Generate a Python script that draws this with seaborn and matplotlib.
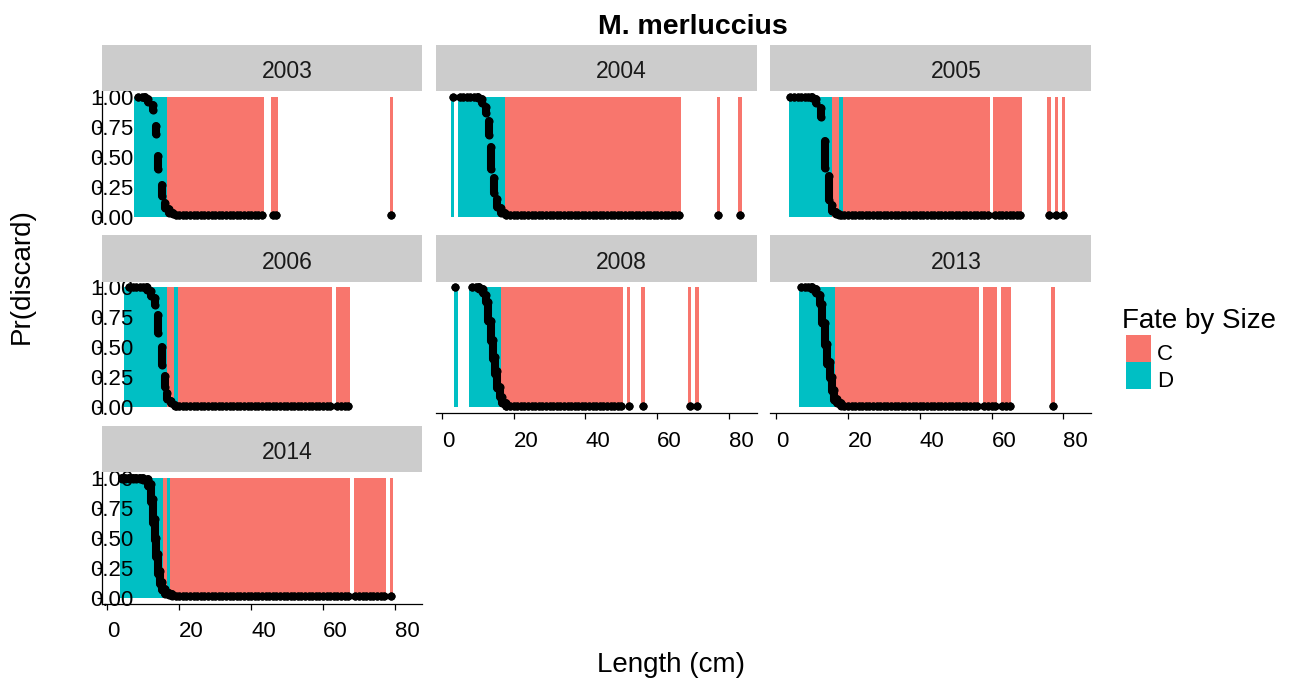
import matplotlib
matplotlib.use("Agg")
import matplotlib.pyplot as plt
from matplotlib.patches import Rectangle
import pandas as pd
import seaborn as sns

sns.set_theme(style="white")
plt.rcParams["font.family"] = ["Liberation Sans", "DejaVu Sans"]

# ---------------------------------------------------------------------------
# Length classes (cm) by fate: C = caught/retained, D = discarded
# ---------------------------------------------------------------------------
years = ["2003", "2004", "2005", "2006", "2008", "2013", "2014"]

c_2003 = [*range(17, 44), 46, 47, 79]
d_2003 = [*range(8, 17)]
c_2004 = [*range(18, 67), 77, 83]
d_2004 = [3, *range(5, 18)]
c_2005 = [16, 17, *range(19, 60), *range(61, 69), 76, 78, 80]
d_2005 = [*range(4, 16), 18]
c_2006 = [17, 18, *range(20, 63), *range(64, 68)]
d_2006 = [*range(5, 17), 19]
c_2008 = [*range(17, 51), 52, 56, 69, 71]
d_2008 = [4, *range(8, 17)]
c_2013 = [*range(17, 57), *range(58, 62), *range(63, 66), 77]
d_2013 = [*range(7, 17)]
c_2014 = [16, *range(18, 68), *range(69, 78), 79]
d_2014 = [*range(4, 16), 17]

# Fitted Pr(discard): (length, lowest, highest) over the selectivity curve
fit_2003 = [(8.5, 1.0, 1.0), (9.5, 1.0, 1.0), (10.5, 0.99, 1.0), (11.3, 0.96, 0.98),
            (12.6, 0.89, 0.93), (13.4, 0.69, 0.76), (14.1, 0.40, 0.51), (15.2, 0.17, 0.26),
            (16.1, 0.07, 0.11), (17.1, 0.03, 0.06), (18.2, 0.02, 0.03)]
fit_2004 = [(3, 1.0, 1.0), (5, 1.0, 1.0), (6, 1.0, 1.0), (7, 1.0, 1.0), (8, 1.0, 1.0),
            (9, 1.0, 1.0), (10, 0.99, 1.0), (11.2, 0.95, 0.98), (12.4, 0.87, 0.92),
            (13.2, 0.68, 0.80), (13.8, 0.40, 0.58), (14.5, 0.20, 0.32), (15.4, 0.08, 0.15),
            (16.4, 0.03, 0.07), (17.5, 0.02, 0.03)]
fit_2005 = [(4, 1.0, 1.0), (5, 1.0, 1.0), (6, 1.0, 1.0), (7, 1.0, 1.0), (8, 1.0, 1.0),
            (9, 1.0, 1.0), (10, 0.99, 1.0), (11.2, 0.95, 0.98), (12.5, 0.83, 0.91),
            (13.6, 0.41, 0.63), (14.6, 0.14, 0.34), (15.6, 0.05, 0.10), (16.6, 0.02, 0.04),
            (17.6, 0.01, 0.02)]
fit_2006 = [(6, 1.0, 1.0), (7, 1.0, 1.0), (8, 1.0, 1.0), (9, 1.0, 1.0), (10, 1.0, 1.0),
            (11, 0.98, 1.0), (12.2, 0.93, 0.97), (13.1, 0.85, 0.91), (14.2, 0.62, 0.77),
            (15.2, 0.35, 0.50), (15.9, 0.17, 0.26), (16.7, 0.07, 0.12), (17.7, 0.03, 0.05),
            (18.7, 0.01, 0.02)]
fit_2008 = [(3.8, 1.0, 1.0), (8.5, 1.0, 1.0), (9.5, 1.0, 1.0), (10.5, 0.99, 1.0),
            (11.4, 0.95, 0.99), (12.2, 0.88, 0.94), (12.9, 0.72, 0.88), (13.6, 0.55, 0.72),
            (14.3, 0.40, 0.56), (14.9, 0.28, 0.42), (15.5, 0.16, 0.30), (16.1, 0.08, 0.17),
            (16.9, 0.03, 0.08), (17.9, 0.01, 0.03)]
fit_2013 = [(7, 1.0, 1.0), (8, 1.0, 1.0), (9, 1.0, 1.0), (10, 0.99, 1.0), (11.2, 0.95, 0.99),
            (12.2, 0.86, 0.94), (12.9, 0.70, 0.86), (13.6, 0.52, 0.70), (14.3, 0.36, 0.53),
            (14.9, 0.24, 0.38), (15.5, 0.13, 0.25), (16.2, 0.06, 0.14), (17.0, 0.03, 0.07),
            (18.0, 0.01, 0.03)]
fit_2014 = [(4, 0.99, 1.0), (5, 0.99, 1.0), (6, 0.99, 1.0), (7, 0.99, 1.0), (8, 0.99, 1.0),
            (9, 0.99, 1.0), (10, 0.98, 1.0), (11.2, 0.93, 0.99), (12.1, 0.80, 0.95),
            (12.6, 0.62, 0.82), (13.1, 0.48, 0.66), (13.6, 0.34, 0.50), (14.1, 0.20, 0.36),
            (14.6, 0.11, 0.22), (15.2, 0.06, 0.13), (16.0, 0.03, 0.07), (17.0, 0.02, 0.04),
            (18.0, 0.01, 0.03)]

# Fitted Pr(discard) level for all larger length classes
floor_2003 = 0.01
floor_2004 = 0.01
floor_2005 = 0.01
floor_2006 = 0.01
floor_2008 = 0.01
floor_2013 = 0.01
floor_2014 = 0.012

x_ticks = [0, 20, 40, 60, 80]
x_tick_labels = ["0", "20", "40", "60", "80"]
y_ticks = [0.0, 0.25, 0.5, 0.75, 1.0]
y_tick_labels = ["0.00", "0.25", "0.50", "0.75", "1.00"]

fates = ["C", "D"]
palette = {"C": "#F8766D", "D": "#00BFC4"}

data = {
    "2003": (c_2003, d_2003, fit_2003, floor_2003),
    "2004": (c_2004, d_2004, fit_2004, floor_2004),
    "2005": (c_2005, d_2005, fit_2005, floor_2005),
    "2006": (c_2006, d_2006, fit_2006, floor_2006),
    "2008": (c_2008, d_2008, fit_2008, floor_2008),
    "2013": (c_2013, d_2013, fit_2013, floor_2013),
    "2014": (c_2014, d_2014, fit_2014, floor_2014),
}

# ---------------------------------------------------------------------------
# Figure layout (pixel based facet grid)
# ---------------------------------------------------------------------------
W, H = 1292, 681
fig = plt.figure(figsize=(W / 100, H / 100), dpi=100)
fig.patch.set_facecolor("white")


def fx(x):
    return x / W


def fy(y):
    return 1 - y / H


panel_left = [101.7, 436.0, 770.3]
panel_w = 320.5
panel_top = [91.0, 281.5, 472.0]
panel_h = 131.5
strip_h = 46.5

grid_pos = {"2003": (0, 0), "2004": (0, 1), "2005": (0, 2),
            "2006": (1, 0), "2008": (1, 1), "2013": (1, 2), "2014": (2, 0)}
with_x_axis = {"2014", "2008", "2013"}

XLIM = (-1.6, 87.6)
YLIM = (-0.05, 1.05)
dot_s = 34
dot_lw_pt = 5.8

for yr in years:
    row, col = grid_pos[yr]
    left, top = panel_left[col], panel_top[row]
    c_len, d_len, fit, floor = data[yr]

    ax = fig.add_axes([fx(left), fy(top + panel_h), panel_w / W, panel_h / H])
    ax.set_facecolor("white")

    bars = pd.DataFrame({
        "length": c_len + d_len,
        "fate": ["C"] * len(c_len) + ["D"] * len(d_len),
        "prop": [1.0] * (len(c_len) + len(d_len)),
    })
    sns.histplot(data=bars, x="length", weights="prop", hue="fate", hue_order=fates,
                 palette=palette, discrete=True, shrink=1, alpha=1, linewidth=0,
                 multiple="layer", legend=False, antialiased=False, ax=ax)

    fit_df = pd.DataFrame(fit, columns=["length", "lo", "hi"])
    max_fit = fit_df["length"].max()
    tail_len = sorted(L for L in c_len + d_len if L > max_fit)
    tail_df = pd.DataFrame({"length": tail_len,
                            "lo": [floor] * len(tail_len),
                            "hi": [floor] * len(tail_len)})
    pts = pd.concat([fit_df, tail_df], ignore_index=True)

    spread = pts[pts["hi"] > pts["lo"]]
    ax.vlines(spread["length"], spread["lo"], spread["hi"], colors="black",
              linewidth=dot_lw_pt, capstyle="round", zorder=3)
    sns.scatterplot(data=pts, x="length", y="lo", color="black", s=dot_s,
                    linewidth=0, zorder=4, ax=ax)
    sns.scatterplot(data=pts, x="length", y="hi", color="black", s=dot_s,
                    linewidth=0, zorder=4, ax=ax)

    ax.set_xlim(*XLIM)
    ax.set_ylim(*YLIM)
    ax.set_xlabel("")
    ax.set_ylabel("")
    ax.set_axisbelow(False)
    for sp in ax.spines.values():
        sp.set_visible(False)

    ax.set_xticks(x_ticks)
    ax.set_yticks(y_ticks)
    if yr in with_x_axis:
        ax.spines["bottom"].set_visible(True)
        ax.spines["bottom"].set_color("black")
        ax.spines["bottom"].set_linewidth(0.9)
        ax.set_xticklabels(x_tick_labels, ha="left")
        ax.tick_params(axis="x", bottom=True, labelbottom=True, length=4.3, width=0.9,
                       color="black", pad=8.3, labelsize=16, labelcolor="black")
    else:
        ax.tick_params(axis="x", bottom=False, labelbottom=False)
    if col == 0:
        ax.spines["left"].set_visible(True)
        ax.spines["left"].set_color("black")
        ax.spines["left"].set_linewidth(0.9)
        ax.set_yticklabels(y_tick_labels, ha="left")
        ax.tick_params(axis="y", left=True, labelleft=True, length=3.5, width=0.9,
                       color="black", pad=4.9, labelsize=16, labelcolor="black")
    else:
        ax.tick_params(axis="y", left=False, labelleft=False)

    # facet strip
    sax = fig.add_axes([fx(left), fy(top), panel_w / W, strip_h / H])
    sax.set_facecolor("#CCCCCC")
    sax.set_xticks([])
    sax.set_yticks([])
    for sp in sax.spines.values():
        sp.set_visible(False)
    sax.text(0.5, 0.27, yr, transform=sax.transAxes, ha="left", va="baseline",
             fontsize=16.5, color="#1A1A1A")

# ---------------------------------------------------------------------------
# Titles and legend
# ---------------------------------------------------------------------------
fig.text(fx(598), fy(34), "M. merluccius", ha="left", va="baseline",
         fontsize=20.5, fontweight="bold", color="black")
fig.text(fx(597), fy(672), "Length (cm)", ha="left", va="baseline",
         fontsize=20, color="black")
fig.text(fx(22), fy(276), "Pr(discard)", ha="center", va="center", rotation=90,
         fontsize=20, color="black")

fig.text(fx(1122), fy(328), "Fate by Size", ha="left", va="baseline",
         fontsize=20, color="black")
key_top = [335.0, 362.0]
for fate, kt in zip(fates, key_top):
    fig.add_artist(Rectangle((fx(1126), fy(kt + 27)), 25 / W, 27 / H,
                             transform=fig.transFigure, facecolor=palette[fate],
                             edgecolor="none"))
    fig.text(fx(1157), fy(kt + 25), fate, ha="left", va="baseline",
             fontsize=16, color="black")

fig.savefig("out.png", dpi=100, facecolor="white")
